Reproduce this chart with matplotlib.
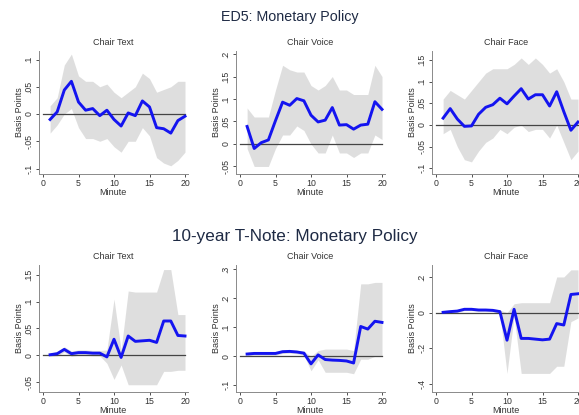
import matplotlib
matplotlib.use("Agg")
import matplotlib.pyplot as plt
import numpy as np

plt.rcParams['font.family'] = ['Liberation Sans', 'DejaVu Sans']

minutes = list(range(1, 21))

# ED5 futures, monetary policy news
ed5_text = [-0.010, 0.004, 0.044, 0.060, 0.022, 0.007, 0.010, -0.003, 0.007, -0.010,
            -0.022, 0.002, -0.003, 0.024, 0.013, -0.025, -0.027, -0.035, -0.012, -0.004]
ed5_text_hi = [0.015, 0.030, 0.090, 0.110, 0.070, 0.060, 0.060, 0.050, 0.055, 0.040,
               0.030, 0.040, 0.050, 0.075, 0.065, 0.040, 0.045, 0.050, 0.060, 0.060]
ed5_text_lo = [-0.035, -0.020, 0.000, 0.010, -0.025, -0.045, -0.045, -0.050, -0.045, -0.060,
               -0.070, -0.050, -0.050, -0.025, -0.040, -0.080, -0.090, -0.095, -0.085, -0.070]

ed5_voice = [0.039, -0.010, 0.003, 0.009, 0.052, 0.093, 0.086, 0.101, 0.096, 0.064,
             0.049, 0.053, 0.081, 0.042, 0.043, 0.033, 0.042, 0.044, 0.094, 0.077]
ed5_voice_hi = [0.080, 0.060, 0.060, 0.060, 0.120, 0.175, 0.165, 0.160, 0.160, 0.130,
                0.120, 0.130, 0.150, 0.120, 0.120, 0.110, 0.110, 0.110, 0.175, 0.150]
ed5_voice_lo = [-0.010, -0.050, -0.050, -0.050, -0.010, 0.020, 0.020, 0.040, 0.030, 0.000,
                -0.020, -0.020, 0.020, -0.020, -0.020, -0.030, -0.020, -0.020, 0.020, 0.010]

ed5_face = [0.016, 0.038, 0.014, -0.003, -0.002, 0.025, 0.041, 0.047, 0.062, 0.049,
            0.067, 0.084, 0.060, 0.070, 0.070, 0.044, 0.077, 0.031, -0.012, 0.007]
ed5_face_hi = [0.060, 0.080, 0.070, 0.060, 0.080, 0.100, 0.120, 0.130, 0.130, 0.130,
               0.140, 0.155, 0.140, 0.155, 0.140, 0.120, 0.130, 0.100, 0.060, 0.060]
ed5_face_lo = [-0.020, -0.010, -0.050, -0.080, -0.085, -0.060, -0.040, -0.030, -0.010, -0.020,
               -0.005, 0.000, -0.015, -0.010, -0.010, -0.030, 0.000, -0.040, -0.080, -0.060]

# 10-year Treasury note futures, monetary policy news
tn_text = [0.001, 0.003, 0.011, 0.003, 0.005, 0.005, 0.004, 0.004, -0.003, 0.030,
           -0.004, 0.036, 0.026, 0.027, 0.028, 0.024, 0.064, 0.064, 0.037, 0.036]
tn_text_hi = [0.004, 0.007, 0.016, 0.008, 0.010, 0.010, 0.009, 0.009, 0.010, 0.105,
              0.010, 0.120, 0.118, 0.118, 0.118, 0.118, 0.160, 0.160, 0.076, 0.076]
tn_text_lo = [-0.002, -0.001, 0.006, -0.002, 0.000, 0.000, -0.001, -0.001, -0.015, -0.045,
              -0.018, -0.055, -0.055, -0.055, -0.055, -0.055, -0.030, -0.030, -0.028, -0.028]

tn_voice = [0.008, 0.010, 0.010, 0.010, 0.010, 0.016, 0.017, 0.015, 0.011, -0.026,
            0.005, -0.011, -0.013, -0.014, -0.016, -0.023, 0.103, 0.094, 0.121, 0.117]
tn_voice_hi = [0.014, 0.016, 0.016, 0.016, 0.016, 0.022, 0.023, 0.021, 0.018, 0.000,
               0.020, 0.025, 0.025, 0.025, 0.025, 0.020, 0.250, 0.250, 0.255, 0.255]
tn_voice_lo = [0.002, 0.004, 0.004, 0.004, 0.004, 0.010, 0.011, 0.009, 0.004, -0.050,
               -0.012, -0.055, -0.055, -0.055, -0.055, -0.060, -0.010, -0.010, 0.000, 0.000]

tn_face = [0.002, 0.006, 0.009, 0.019, 0.019, 0.015, 0.015, 0.013, 0.006, -0.154,
           0.019, -0.144, -0.144, -0.148, -0.152, -0.148, -0.061, -0.069, 0.102, 0.106]
tn_face_hi = [0.006, 0.012, 0.015, 0.026, 0.026, 0.022, 0.022, 0.020, 0.015, 0.000,
              0.050, 0.056, 0.056, 0.056, 0.056, 0.056, 0.200, 0.200, 0.240, 0.240]
tn_face_lo = [-0.002, 0.000, 0.003, 0.012, 0.012, 0.008, 0.008, 0.006, -0.005, -0.340,
              -0.020, -0.340, -0.340, -0.340, -0.340, -0.340, -0.300, -0.300, -0.050, -0.030]

panel_titles = ["Chair Text", "Chair Voice", "Chair Face"]
row_titles = ["ED5: Monetary Policy", "10-year T-Note: Monetary Policy"]

rows = [
    [(ed5_text, ed5_text_lo, ed5_text_hi), (ed5_voice, ed5_voice_lo, ed5_voice_hi),
     (ed5_face, ed5_face_lo, ed5_face_hi)],
    [(tn_text, tn_text_lo, tn_text_hi), (tn_voice, tn_voice_lo, tn_voice_hi),
     (tn_face, tn_face_lo, tn_face_hi)],
]

yticks = [
    [[-0.1, -0.05, 0, 0.05, 0.1], [-0.05, 0, 0.05, 0.1, 0.15, 0.2],
     [-0.1, -0.05, 0, 0.05, 0.1, 0.15]],
    [[-0.05, 0, 0.05, 0.1, 0.15], [-0.1, 0, 0.1, 0.2, 0.3], [-0.4, -0.2, 0, 0.2]],
]
ylims = [
    [(-0.110, 0.1156), (-0.0667, 0.2067), (-0.113, 0.171)],
    [(-0.0685, 0.1685), (-0.123, 0.315), (-0.444, 0.267)],
]


def stata_label(v):
    if abs(v) < 1e-12:
        return "0"
    s = ("%g" % v)
    s = s.replace("0.", ".")
    return s


W, H = 579, 415
fig = plt.figure(figsize=(W / 100, H / 100), dpi=100)
fig.patch.set_facecolor("white")

x_px_per_min = 7.1
x0_px = [43, 240, 436]
row_top = [51, 265]
row_bottom = [174, 392]

title_color = "#1e2a44"
spine_color = "#8a8a8a"
text_color = "#333333"

fig.text(290 / W, 1 - 17 / H, row_titles[0], ha="center", va="center",
         fontsize=10.3, color=title_color)
fig.text(295 / W, 1 - 236 / H, row_titles[1], ha="center", va="center",
         fontsize=12.3, color=title_color)

for r in range(2):
    for c in range(3):
        left = x0_px[c] - 0.6 * x_px_per_min
        width = 21.0 * x_px_per_min
        bottom = H - row_bottom[r]
        height = row_bottom[r] - row_top[r]
        ax = fig.add_axes([left / W, bottom / H, width / W, height / H])
        est, lo, hi = rows[r][c]
        ax.fill_between(minutes, lo, hi, color="#d9d9d9", alpha=0.85,
                        linewidth=0, zorder=1)
        ax.plot([0, 20], [0, 0], color="#444444", linewidth=0.9, zorder=2)
        ax.plot(minutes, est, color="#1414f0", linewidth=2.1, zorder=3,
                solid_joinstyle="round")
        ax.set_xlim(-0.6, 20.4)
        ax.set_ylim(*ylims[r][c])
        ax.set_xticks([0, 5, 10, 15, 20])
        ax.set_yticks(yticks[r][c])
        ax.set_yticklabels([stata_label(v) for v in yticks[r][c]],
                           rotation=90, va="center")
        ax.tick_params(axis="both", labelsize=6.3, colors=text_color,
                       length=2.5, width=0.6, pad=1.2)
        for t in ax.get_xticklabels() + ax.get_yticklabels():
            t.set_color(text_color)
        for side in ("top", "right"):
            ax.spines[side].set_visible(False)
        for side in ("left", "bottom"):
            ax.spines[side].set_color(spine_color)
            ax.spines[side].set_linewidth(0.7)
        ax.set_xlabel("Minute", fontsize=6.5, color=text_color, labelpad=0)
        ax.set_ylabel("Basis Points", fontsize=6.5, color=text_color, labelpad=0.5)
        ax.set_title(panel_titles[c], fontsize=6.5, color=text_color, pad=4)
        ax.set_facecolor("none")

fig.savefig("out.png", dpi=100, facecolor="white")
